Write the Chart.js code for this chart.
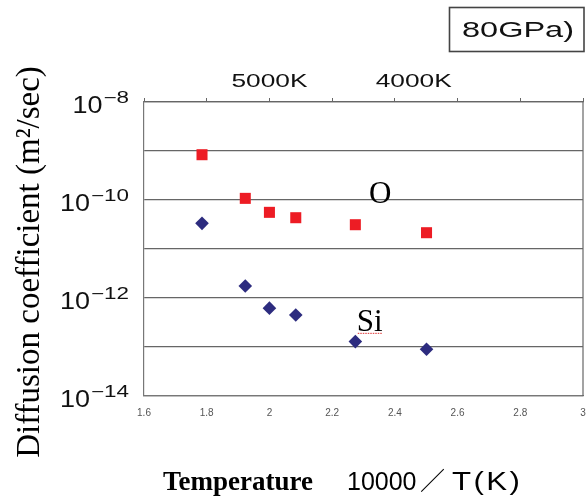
<!DOCTYPE html>
<html>
<head>
<meta charset="utf-8">
<script src="https://cdn.jsdelivr.net/npm/chart.js@4/dist/chart.umd.min.js"></script>
<style>
html,body{margin:0;padding:0;background:#fff;}
#wrap{width:586px;height:502px;}
</style>
</head>
<body>
<div id="wrap"><canvas id="c" width="586" height="502"></canvas></div>
<script>
// ---- data ----
const xValues   = [1.785, 1.923, 2.0, 2.084, 2.274, 2.501];        // 10000/T
const oValues   = [8.4e-10, 1.08e-10, 5.6e-11, 4.35e-11, 3.13e-11, 2.15e-11];
const siValues  = [3.34e-11, 1.76e-12, 6.2e-13, 4.5e-13, 1.29e-13, 8.97e-14];
const xTicks    = [1.6, 1.8, 2, 2.2, 2.4, 2.6, 2.8, 3];
const yDecades  = [-14, -13, -12, -11, -10, -9, -8];
const yLabelExp = [-14, -12, -10, -8];
const topLabels = ['5000K', '4000K'];
const topLabelX = [2.0, 2.46];
const seriesNames = ['O', 'Si'];

const oPoints  = xValues.map((x, i) => ({x: x, y: oValues[i]}));
const siPoints = xValues.map((x, i) => ({x: x, y: siValues[i]}));

function stretchText(ctx, text, cx, cy, targetW, align) {
  const w = ctx.measureText(text).width;
  const sx = targetW / w;
  ctx.save();
  ctx.translate(cx, cy);
  ctx.scale(sx, 1);
  ctx.textAlign = align || 'center';
  ctx.fillText(text, 0, 0);
  ctx.restore();
}

const decor = {
  id: 'decor',
  afterDraw(chart) {
    const ctx = chart.ctx;
    const a = chart.chartArea;
    const xs = chart.scales.x, ys = chart.scales.y;
    ctx.save();
    // right border
    ctx.strokeStyle = '#666';
    ctx.lineWidth = 1.2;
    ctx.beginPath();
    ctx.moveTo(a.right, a.top);
    ctx.lineTo(a.right, a.bottom);
    ctx.stroke();

    // y tick labels 10^n
    ctx.fillStyle = '#111';
    ctx.textBaseline = 'middle';
    yLabelExp.forEach(e => {
      const py = ys.getPixelForValue(Math.pow(10, e));
      const expTxt = '\u2212' + Math.abs(e);
      ctx.font = '16px "Liberation Sans", Arial, sans-serif';
      const ew = ctx.measureText(expTxt).width * 1.4;
      stretchText(ctx, expTxt, 129, py - 3, ew, 'right');
      ctx.font = '23px "Liberation Sans", Arial, sans-serif';
      stretchText(ctx, '10', 129 - ew - 1, py + 5, 30, 'right');
    });

    // top temperature labels
    ctx.font = '19px "Liberation Sans", Arial, sans-serif';
    ctx.fillStyle = '#111';
    topLabels.forEach((t, i) => {
      stretchText(ctx, t, xs.getPixelForValue(topLabelX[i]), 82, 76, 'center');
    });

    // pressure box
    ctx.strokeStyle = '#444';
    ctx.lineWidth = 1.6;
    ctx.strokeRect(449.5, 7.5, 134.5, 44);
    ctx.font = '22px "Liberation Sans", Arial, sans-serif';
    stretchText(ctx, '80GPa)', 518, 31, 112, 'center');

    // series annotations
    ctx.font = '31px "Liberation Serif", "Times New Roman", serif';
    ctx.textBaseline = 'alphabetic';
    ctx.textAlign = 'center';
    ctx.fillStyle = '#000';
    ctx.fillText(seriesNames[0], xs.getPixelForValue(2.353), ys.getPixelForValue(Math.pow(10, -10.06)));
    const siX = xs.getPixelForValue(2.32), siY = ys.getPixelForValue(Math.pow(10, -12.67));
    ctx.fillText(seriesNames[1], siX, siY);
    ctx.strokeStyle = '#e03030';
    ctx.lineWidth = 1;
    ctx.setLineDash([1.5, 1]);
    ctx.beginPath();
    ctx.moveTo(siX - 12, siY + 2.5);
    ctx.lineTo(siX + 13, siY + 2.5);
    ctx.stroke();
    ctx.setLineDash([]);

    // y axis title
    ctx.save();
    ctx.translate(30, 262);
    ctx.rotate(-Math.PI / 2);
    ctx.font = '33px "Liberation Serif", "Times New Roman", serif';
    ctx.textAlign = 'center';
    ctx.textBaseline = 'middle';
    ctx.fillText('Diffusion coefficient (m\u00B2/sec)', 0, 0);
    ctx.restore();

    // x axis title
    ctx.textAlign = 'left';
    ctx.textBaseline = 'alphabetic';
    ctx.font = 'bold 27px "Liberation Serif", "Times New Roman", serif';
    ctx.fillText('Temperature', 163, 490);
    ctx.font = '25px "Liberation Sans", Arial, sans-serif';
    ctx.fillText('10000', 347, 490);
    ctx.font = '25px "Noto Sans CJK JP", sans-serif';
    ctx.fillText('\uFF0F', 420, 490);
    ctx.save();
    ctx.translate(452, 490);
    ctx.scale(1.2, 1);
    ctx.font = '26px "Liberation Sans", Arial, sans-serif';
    ctx.letterSpacing = '2px';
    ctx.fillText('T(K)', 0, 0);
    ctx.restore();
    ctx.restore();
  }
};

new Chart(document.getElementById('c'), {
  type: 'scatter',
  data: {
    datasets: [
      { label: seriesNames[0], data: oPoints, pointStyle: 'rect', pointRadius: 7.8, pointHoverRadius: 7.8,
        backgroundColor: '#ed1c24', borderColor: '#ed1c24', borderWidth: 0 },
      { label: seriesNames[1], data: siPoints, pointStyle: 'rectRot', pointRadius: 6.8, pointHoverRadius: 6.8,
        backgroundColor: '#2d2c7f', borderColor: '#2d2c7f', borderWidth: 0 }
    ]
  },
  options: {
    responsive: false,
    animation: false,
    events: [],
    layout: { autoPadding: false, padding: { top: 98, right: 3, left: 0, bottom: 0 } },
    plugins: { legend: { display: false }, tooltip: { enabled: false } },
    scales: {
      x: {
        type: 'linear', position: 'bottom', min: 1.6, max: 3,
        afterBuildTicks: s => { s.ticks = xTicks.map(v => ({value: v})); },
        afterFit: s => { s.height = 106; s.paddingLeft = 0; s.paddingRight = 0; },
        grid: { drawOnChartArea: false, drawTicks: false },
        border: { display: true, color: '#777', width: 1.2 },
        ticks: { padding: 11, color: '#555', font: { size: 10, family: '"Liberation Sans", Arial, sans-serif' },
                 callback: v => String(Math.round(v * 10) / 10), maxRotation: 0, autoSkip: false }
      },
      x2: {
        type: 'linear', position: 'top', min: 1.6, max: 3,
        afterBuildTicks: s => { s.ticks = xTicks.map(v => ({value: v})); },
        afterFit: s => { s.height = 4; s.paddingLeft = 0; s.paddingRight = 0; },
        grid: { drawOnChartArea: false, drawTicks: true, tickLength: 4, color: '#666', lineWidth: 1 },
        border: { display: true, color: '#666', width: 1.2 },
        ticks: { display: false }
      },
      y: {
        type: 'logarithmic', min: 1e-14, max: 1e-8,
        afterBuildTicks: s => { s.ticks = yDecades.map(e => ({value: Math.pow(10, e)})); },
        afterFit: s => { s.width = 144; },
        grid: { color: '#666', lineWidth: 1.2, drawTicks: false },
        border: { display: true, color: '#777', width: 1.2 },
        ticks: { display: false }
      }
    }
  },
  plugins: [decor]
});
</script>
</body>
</html>
